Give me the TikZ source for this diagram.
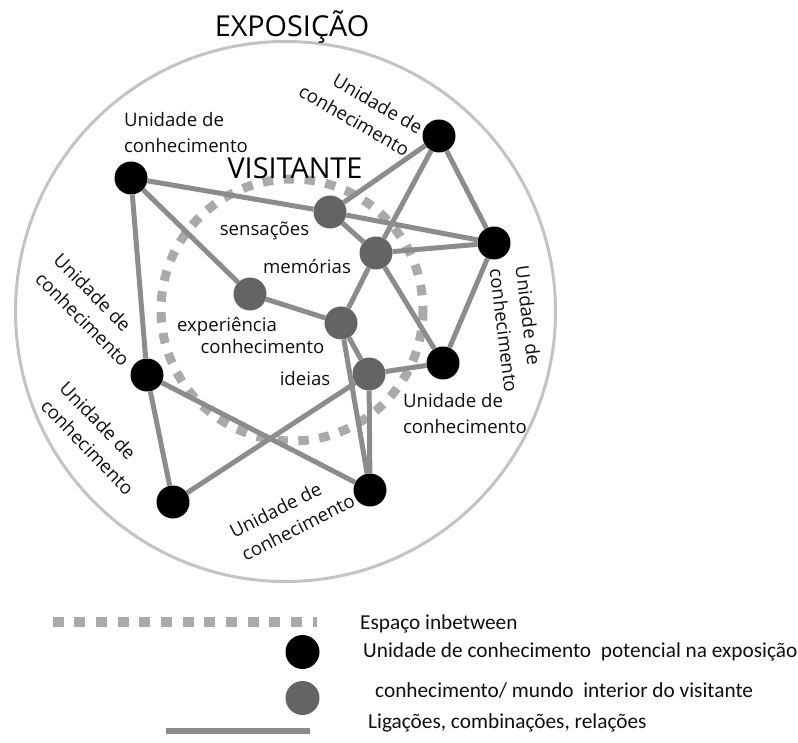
\documentclass[tikz,border=0pt]{standalone}
\usepackage{fontspec}
\setmainfont{Open Sans}
\newfontfamily\legendfont{Carlito}
\definecolor{edgegray}{RGB}{140,140,140}
\definecolor{nodegray}{RGB}{100,100,100}
\definecolor{dashgray}{RGB}{170,170,170}
\definecolor{ringgray}{RGB}{195,195,195}
\definecolor{txt}{RGB}{15,15,15}
\begin{document}
\begin{tikzpicture}[x=1pt,y=-1pt,
  bnode/.style={circle,fill=black,minimum size=33pt,inner sep=0pt},
  gnode/.style={circle,fill=nodegray,minimum size=33pt,inner sep=0pt},
  edge/.style={draw=edgegray,line width=5pt},
  lbl/.style={font=\fontsize{18.6}{26}\selectfont,inner sep=0pt,text=txt},
  title/.style={font=\fontsize{28.8}{32}\selectfont,inner sep=0pt,text=black},
  leg/.style={font=\legendfont\fontsize{21.3}{24}\selectfont,inner sep=0pt,text=txt,anchor=base west},
  between/.style={draw=dashgray,line width=9pt,dash pattern=on 10.5pt off 10.5pt}]
\useasboundingbox (0,0) rectangle (798,743);
% exhibition ring
\draw[ringgray,line width=3pt] (285.5,311.5) circle[radius=270];
% inbetween space
\draw[between] (292,310) circle[radius=131];
% titles
\node[title,anchor=base] (expo) at (292,36.5) {EXPOSIÇÃO};
\node[title,anchor=base] (visit) at (295,178.5) {VISITANTE};
% knowledge units
\node[bnode] (b1) at (131,178) {};
\node[bnode] (b2) at (439,136) {};
\node[bnode] (b3) at (494,243) {};
\node[bnode] (b4) at (443,363) {};
\node[bnode] (b5) at (147,375) {};
\node[bnode] (b6) at (173,502) {};
\node[bnode] (b7) at (370,490) {};
% visitor inner world
\node[gnode] (g1) at (330,212) {};
\node[gnode] (g2) at (376,253) {};
\node[gnode] (g3) at (250,294) {};
\node[gnode] (g4) at (341,323) {};
\node[gnode] (g5) at (369,374) {};
% links
\foreach \a/\b in {b1/g1,g1/b3,b1/g3,b1/b5,g1/b2,g1/g2,b2/g2,b2/b3,g2/b3,g2/b4,
                   g2/g4,g3/g4,g4/g5,g4/b7,g5/b7,g5/b4,g5/b6,b5/b7,b5/b6,b3/b4}
  \draw[edge] (\a) -- (\b);
% unit labels
\node[lbl,align=left] (la) at (186,133) {Unidade de\\conhecimento};
\node[lbl,align=right,rotate=-30] (ltr) at (361,109) {Unidade de\\conhecimento};
\node[lbl,align=left,rotate=-45] (lb5) at (92,310) {Unidade de\\conhecimento};
\node[lbl,align=left,rotate=-46] (lb6) at (97,438) {Unidade de\\conhecimento};
\node[lbl,align=left,rotate=27] (lb7) at (292,516) {Unidade de\\conhecimento};
\node[lbl,align=left,rotate=-83] (lr) at (517,329) {Unidade de\\conhecimento};
\node[lbl,align=left] (lb4) at (465,414) {Unidade de\\conhecimento};
% inner labels
\node[lbl,anchor=base] (ls) at (264.5,236) {sensações};
\node[lbl,anchor=base] (lm) at (307,274) {memórias};
\node[lbl,anchor=base] (le) at (227,331.5) {experiência};
\node[lbl,anchor=base] (lc) at (262.5,353) {conhecimento};
\node[lbl,anchor=base] (li) at (305,385) {ideias};
% legend
\coordinate (d1) at (52.7,622);
\coordinate (d2) at (317,622);
\draw[between,line width=10pt,dash pattern=on 11pt off 10.65pt] (d1) -- (d2);
\node[circle,fill=black,minimum size=34pt,inner sep=0pt] (kb) at (302.5,652) {};
\node[circle,fill=nodegray,minimum size=34pt,inner sep=0pt] (kg) at (302.5,698) {};
\coordinate (l1) at (166,731);
\coordinate (l2) at (310,731);
\draw[edge,line width=6pt] (l1) -- (l2);
\node[leg] (t1) at (360,629) {Espaço inbetween};
\node[leg] (t2) at (363,657) {Unidade de conhecimento\ \ potencial na exposição};
\node[leg] (t3) at (375,697) {conhecimento/ mundo\ \ interior do visitante};
\node[leg] (t4) at (368,728) {Ligações, combinações, relações};
\end{tikzpicture}
\end{document}
